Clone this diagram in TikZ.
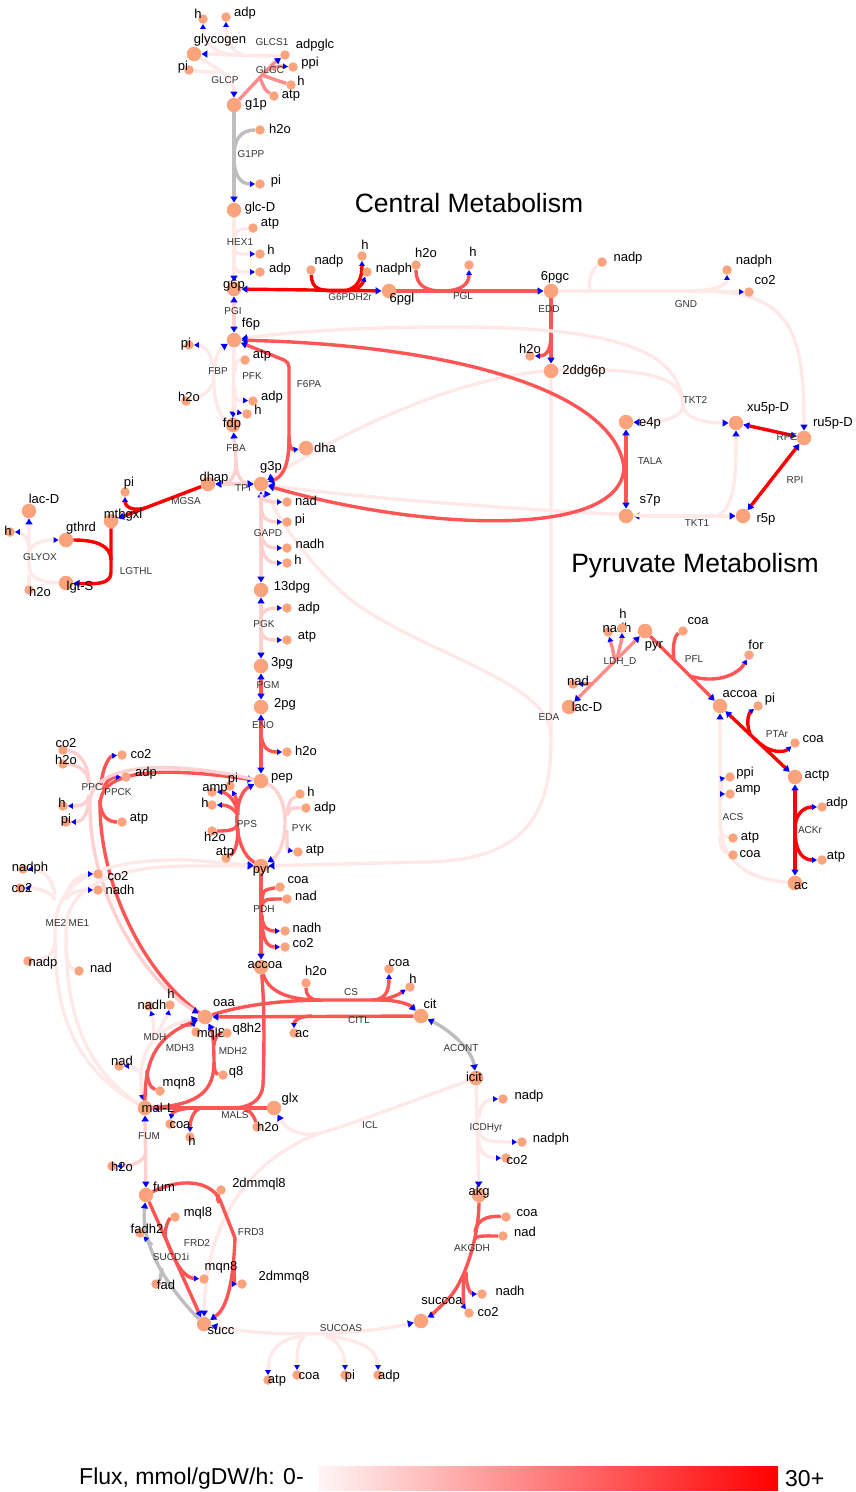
\documentclass[tikz,border=0pt]{standalone}
\usepackage{fontspec}
\setmainfont{Liberation Sans}
\usetikzlibrary{arrows.meta}
\pgfdeclarelayer{bg}
\pgfsetlayers{bg,main}

\definecolor{cz}{RGB}{255,232,232}
\definecolor{cl}{RGB}{255,208,208}
\definecolor{cm}{RGB}{255,140,140}
\definecolor{cr}{RGB}{255,85,85}
\definecolor{cx}{RGB}{255,0,0}
\definecolor{cg}{RGB}{190,190,190}
\definecolor{metc}{RGB}{250,163,124}

\tikzset{
  rxn/.style={line width=3.4pt, line join=round},
  fz/.style={rxn, draw=cz},
  fl/.style={rxn, draw=cl},
  fm/.style={rxn, draw=cm},
  fr/.style={rxn, draw=cr},
  fx/.style={rxn, draw=cx},
  fg/.style={rxn, draw=cg},
  tip/.style={-{Triangle[length=6pt,width=7pt,color=blue]}},
  tips/.style={-{Triangle[length=5pt,width=5.5pt,color=blue]}},
  both/.style={{Triangle[length=6pt,width=7pt,color=blue]}-{Triangle[length=6pt,width=7pt,color=blue]}},
  mb/.style={circle, fill=metc, minimum size=14.5pt, inner sep=0pt},
  ms/.style={circle, fill=metc, minimum size=9.5pt, inner sep=0pt},
  mlab/.style={font=\fontsize{13}{13}\selectfont, text=black, inner sep=0pt},
  rlab/.style={font=\fontsize{10}{10}\selectfont, text=black!80, inner sep=0pt},
  ttl/.style={font=\fontsize{26.5}{26.5}\selectfont, text=black, inner sep=0pt},
}
% metabolite: id, x, y, style, text, label x, label y
\newcommand\Met[7]{\node[#4] (#1) at (#2,#3) {}; \node[mlab] (#1t) at (#6,#7) {#5};}
% reaction label: id, x, y, text
\newcommand\Rx[4]{\node[rlab] (r#1) at (#2,#3) {#4};}

\begin{document}
\begin{tikzpicture}[x=1pt,y=-1pt]
\useasboundingbox (0,0) rectangle (855,1492);

% ---------------- metabolites ----------------
% glycogen and upper glycolysis
\Met{glycogen}{194}{54}{mb}{glycogen}{220}{40}
\Met{hA}{203}{19}{ms}{h}{198}{14}
\Met{adpA}{226}{17}{ms}{adp}{245}{13}
\Met{piA}{189}{70}{ms}{pi}{183}{67}
\Met{adpglc}{285}{55}{ms}{adpglc}{315}{45}
\Met{ppiA}{293}{67}{ms}{ppi}{310}{63}
\Met{hB}{291}{85}{ms}{h}{301}{81}
\Met{atpA}{274}{96}{ms}{atp}{291}{96}
\Met{g1p}{234}{105}{mb}{g1p}{256}{104}
\Met{h2oA}{260}{130}{ms}{h2o}{280}{129}
\Met{piB}{260}{184}{ms}{pi}{276}{181}
\Met{glcD}{234}{210}{mb}{glc-D}{260}{208}
\Met{atpB}{253}{228}{ms}{atp}{270}{224}
\Met{hC}{260}{254}{ms}{h}{271}{250}
\Met{adpB}{260}{272}{ms}{adp}{280}{269}
\Met{g6p}{234}{289}{mb}{g6p}{234}{285}
\Met{f6p}{234}{340}{mb}{f6p}{251}{324}
% pentose phosphate and ED
\Met{nadpA}{311}{270}{ms}{nadp}{329}{261}
\Met{hD}{362}{256}{ms}{h}{365}{245}
\Met{nadphA}{367}{272}{ms}{nadph}{394}{269}
\Met{pgl}{389}{291}{mb}{6pgl}{402}{299}
\Met{h2oB}{416}{265}{ms}{h2o}{426}{253}
\Met{hE}{469}{265}{ms}{h}{473}{252}
\Met{pgc}{551}{291}{mb}{6pgc}{555}{277}
\Met{nadpB}{602}{262}{ms}{nadp}{628}{258}
\Met{nadphB}{727}{270}{ms}{nadph}{754}{261}
\Met{co2A}{749}{292}{ms}{co2}{765}{280}
\Met{h2oC}{530}{356}{ms}{h2o}{530}{349}
\Met{ddg}{551}{371}{mb}{2ddg6p}{584}{371}
\Met{e4p}{626}{422}{mb}{e4p}{650}{423}
\Met{s7p}{626}{516}{mb}{s7p}{650}{500}
\Met{xu5p}{736}{423}{mb}{xu5p-D}{768}{408}
\Met{ru5p}{804}{438}{mb}{ru5p-D}{833}{423}
\Met{r5p}{743}{516}{mb}{r5p}{766}{519}
% lower glycolysis and methylglyoxal
\Met{piC}{189}{345}{ms}{pi}{186}{344}
\Met{atpC}{245}{360}{ms}{atp}{262}{356}
\Met{h2oD}{186}{401}{ms}{h2o}{189}{397}
\Met{adpC}{253}{401}{ms}{adp}{272}{397}
\Met{hF}{247}{414}{ms}{h}{258}{410}
\Met{fdp}{233}{425}{mb}{fdp}{232}{424}
\Met{dha}{306}{448}{mb}{dha}{325}{448}
\Met{g3p}{261}{484}{mb}{g3p}{271}{467}
\Met{dhap}{208}{484}{mb}{dhap}{214}{478}
\Met{piD}{125}{492}{ms}{pi}{129}{483}
\Met{mthgxl}{111}{521}{mb}{mthgxl}{123}{515}
\Met{lacD}{29}{511}{mb}{lac-D}{44}{499}
\Met{hG}{10}{532}{ms}{h}{8}{531}
\Met{gthrd}{66}{540}{mb}{gthrd}{81}{528}
\Met{lgtS}{66}{583}{mb}{lgt-S}{80}{587}
\Met{h2oE}{29}{590}{ms}{h2o}{40}{592}
\Met{nadA}{287}{502}{ms}{nad}{306}{501}
\Met{piE}{287}{522}{ms}{pi}{300}{520}
\Met{nadhA}{287}{548}{ms}{nadh}{310}{544}
\Met{hH}{287}{563}{ms}{h}{298}{560}
\Met{dpg}{261}{590}{mb}{13dpg}{292}{587}
\Met{adpD}{287}{608}{ms}{adp}{309}{608}
\Met{atpD}{287}{640}{ms}{atp}{307}{637}
\Met{pgthree}{261}{666}{mb}{3pg}{282}{663}
\Met{pgtwo}{261}{707}{mb}{2pg}{285}{704}
\Met{h2oF}{287}{752}{ms}{h2o}{306}{751}
\Met{pep}{261}{781}{mb}{pep}{282}{778}
% pyruvate metabolism
\Met{nadhL}{608}{632}{ms}{nadh}{617}{628}
\Met{hL}{622}{628}{ms}{h}{623}{614}
\Met{pyrB}{645}{631}{mb}{pyr}{654}{646}
\Met{coaP}{683}{631}{ms}{coa}{698}{621}
\Met{forP}{749}{655}{ms}{for}{756}{645}
\Met{nadL}{573}{684}{ms}{nad}{578}{681}
\Met{lacDB}{569}{707}{mb}{lac-D}{587}{707}
\Met{accoaB}{720}{706}{mb}{accoa}{740}{694}
\Met{piP}{758}{706}{ms}{pi}{770}{699}
\Met{coaT}{795}{743}{ms}{coa}{813}{739}
\Met{actp}{795}{777}{mb}{actp}{817}{776}
\Met{ppiS}{730}{777}{ms}{ppi}{745}{773}
\Met{ampS}{730}{794}{ms}{amp}{748}{790}
\Met{adpK}{822}{807}{ms}{adp}{837}{803}
\Met{atpS}{733}{838}{ms}{atp}{750}{838}
\Met{coaS}{733}{855}{ms}{coa}{750}{854}
\Met{atpK}{822}{860}{ms}{atp}{836}{857}
\Met{ac}{795}{883}{mb}{ac}{801}{886}
% anaplerotic
\Met{co2C}{63}{750}{ms}{co2}{66}{743}
\Met{h2oG}{63}{764}{ms}{h2o}{66}{760}
\Met{co2K}{122}{755}{ms}{co2}{141}{754}
\Met{adpE}{126}{777}{ms}{adp}{146}{773}
\Met{hI}{63}{806}{ms}{h}{62}{803}
\Met{piF}{66}{822}{ms}{pi}{66}{820}
\Met{atpE}{122}{822}{ms}{atp}{139}{819}
\Met{piG}{230}{786}{ms}{pi}{233}{779}
\Met{ampA}{212}{792}{ms}{amp}{215}{789}
\Met{hJ}{212}{805}{ms}{h}{205}{803}
\Met{h2oH}{212}{831}{ms}{h2o}{215}{837}
\Met{atpF}{226}{858}{ms}{atp}{225}{853}
\Met{hK}{300}{794}{ms}{h}{311}{792}
\Met{adpF}{306}{808}{ms}{adp}{325}{808}
\Met{atpG}{298}{852}{ms}{atp}{315}{851}
\Met{pyr}{261}{866}{mb}{pyr}{262}{871}
\Met{coaD}{280}{887}{ms}{coa}{298}{880}
\Met{nadD}{287}{899}{ms}{nad}{306}{896}
\Met{nadhD}{285}{931}{ms}{nadh}{307}{928}
\Met{co2D}{285}{947}{ms}{co2}{303}{943}
\Met{accoa}{261}{967}{mb}{accoa}{265}{965}
\Met{nadphM}{23}{869}{ms}{nadph}{30}{868}
\Met{co2M}{20}{888}{ms}{co2}{22}{888}
\Met{co2N}{98}{874}{ms}{co2}{118}{876}
\Met{nadhN}{98}{890}{ms}{nadh}{120}{890}
\Met{nadpM}{28}{961}{ms}{nadp}{43}{963}
\Met{nadN}{79}{971}{ms}{nad}{101}{968}
% TCA cycle and glyoxylate shunt
\Met{h2oI}{306}{983}{ms}{h2o}{316}{971}
\Met{coaC}{389}{969}{ms}{coa}{399}{963}
\Met{hM}{410}{987}{ms}{h}{413}{979}
\Met{cit}{421}{1016}{mb}{cit}{430}{1004}
\Met{acL}{294}{1033}{ms}{ac}{302}{1034}
\Met{oaa}{205}{1017}{mb}{oaa}{224}{1003}
\Met{nadhH}{149}{1006}{ms}{nadh}{152}{1005}
\Met{hN}{170}{1005}{ms}{h}{171}{994}
\Met{mqlA}{196}{1032}{ms}{mql8}{211}{1034}
\Met{qeh}{227}{1033}{ms}{q8h2}{247}{1029}
\Met{nadH}{119}{1066}{ms}{nad}{122}{1061}
\Met{qe}{223}{1075}{ms}{q8}{236}{1072}
\Met{mqnA}{160}{1091}{ms}{mqn8}{179}{1083}
\Met{malL}{145}{1108}{mb}{mal-L}{158}{1108}
\Met{glx}{274}{1108}{mb}{glx}{290}{1099}
\Met{coaM}{170}{1124}{ms}{coa}{180}{1125}
\Met{hO}{190}{1137}{ms}{h}{192}{1141}
\Met{h2oM}{257}{1127}{ms}{h2o}{268}{1127}
\Met{icit}{476}{1078}{mb}{icit}{474}{1077}
\Met{nadpI}{503}{1099}{ms}{nadp}{529}{1096}
\Met{nadphI}{522}{1142}{ms}{nadph}{551}{1139}
\Met{co2I}{506}{1158}{ms}{co2}{517}{1160}
\Met{h2oJ}{112}{1166}{ms}{h2o}{122}{1167}
\Met{fum}{146}{1195}{mb}{fum}{164}{1187}
\Met{dmql}{221}{1190}{ms}{2dmmql8}{259}{1184}
\Met{mqlB}{175}{1217}{ms}{mql8}{198}{1213}
\Met{fadh}{140}{1233}{ms}{fadh2}{147}{1229}
\Met{mqnB}{204}{1279}{ms}{mqn8}{221}{1267}
\Met{dmq}{242}{1284}{ms}{2dmmq8}{284}{1277}
\Met{fad}{156}{1284}{ms}{fad}{166}{1285}
\Met{succ}{204}{1324}{mb}{succ}{221}{1331}
\Met{akg}{479}{1195}{mb}{akg}{479}{1192}
\Met{coaG}{506}{1217}{ms}{coa}{527}{1213}
\Met{nadG}{503}{1236}{ms}{nad}{525}{1232}
\Met{nadhG}{482}{1294}{ms}{nadh}{510}{1291}
\Met{succoa}{421}{1321}{mb}{succoa}{442}{1301}
\Met{co2G}{469}{1313}{ms}{co2}{488}{1312}
\Met{atpU}{268}{1380}{ms}{atp}{277}{1381}
\Met{coaU}{297}{1375}{ms}{coa}{309}{1376}
\Met{piU}{345}{1375}{ms}{pi}{350}{1376}
\Met{adpU}{378}{1375}{ms}{adp}{389}{1376}

% ---------------- reaction labels ----------------
\Rx{GLCS1}{272}{42}{GLCS1}
\Rx{GLGC}{270}{70}{GLGC}
\Rx{GLCP}{225}{80}{GLCP}
\Rx{G1PP}{251}{154}{G1PP}
\Rx{HEX1}{240}{242}{HEX1}
\Rx{PGI}{233}{311}{PGI}
\Rx{G6PDH2r}{350}{297}{G6PDH2r}
\Rx{PGL}{463}{296}{PGL}
\Rx{EDD}{549}{309}{EDD}
\Rx{GND}{686}{304}{GND}
\Rx{TKT2}{695}{400}{TKT2}
\Rx{RPE}{787}{437}{RPE}
\Rx{TALA}{650}{461}{TALA}
\Rx{RPI}{795}{480}{RPI}
\Rx{TKT1}{697}{523}{TKT1}
\Rx{FBP}{218}{371}{FBP}
\Rx{PFK}{252}{376}{PFK}
\Rx{F6PA}{309}{384}{F6PA}
\Rx{FBA}{236}{448}{FBA}
\Rx{TPI}{243}{488}{TPI}
\Rx{MGSA}{186}{501}{MGSA}
\Rx{LGTHL}{136}{571}{LGTHL}
\Rx{GLYOX}{40}{557}{GLYOX}
\Rx{GAPD}{268}{533}{GAPD}
\Rx{PGK}{264}{624}{PGK}
\Rx{PGM}{268}{685}{PGM}
\Rx{ENO}{263}{725}{ENO}
\Rx{LDHD}{620}{662}{LDH\_D}
\Rx{PFL}{694}{659}{PFL}
\Rx{EDA}{549}{717}{EDA}
\Rx{PTAr}{777}{734}{PTAr}
\Rx{ACS}{733}{817}{ACS}
\Rx{ACKr}{810}{830}{ACKr}
\Rx{PPC}{92}{787}{PPC}
\Rx{PPCK}{118}{792}{PPCK}
\Rx{PPS}{247}{824}{PPS}
\Rx{PYK}{302}{828}{PYK}
\Rx{PDH}{264}{909}{PDH}
\Rx{ME2}{56}{923}{ME2}
\Rx{ME1}{79}{923}{ME1}
\Rx{CS}{351}{992}{CS}
\Rx{CITL}{359}{1020}{CITL}
\Rx{MDH}{155}{1037}{MDH}
\Rx{MDH3}{180}{1048}{MDH3}
\Rx{MDH2}{233}{1051}{MDH2}
\Rx{ACONT}{461}{1048}{ACONT}
\Rx{MALS}{235}{1115}{MALS}
\Rx{ICL}{370}{1125}{ICL}
\Rx{ICDHyr}{486}{1128}{ICDHyr}
\Rx{FUM}{149}{1136}{FUM}
\Rx{FRD2}{197}{1243}{FRD2}
\Rx{FRD3}{251}{1232}{FRD3}
\Rx{SUCD1i}{171}{1257}{SUCD1i}
\Rx{AKGDH}{472}{1248}{AKGDH}
\Rx{SUCOAS}{341}{1328}{SUCOAS}

% titles
\node[ttl] (title1) at (469,203) {Central Metabolism};
\node[ttl] (title2) at (695,566) {Pyruvate Metabolism};

% legend
\node[font=\fontsize{23}{23}\selectfont, anchor=west, inner sep=0pt] (legtxt) at (79,1479) {Flux, mmol/gDW/h: 0-};
\node[inner sep=0pt, minimum width=460pt, minimum height=24pt, left color={rgb,255:red,255;green,246;blue,246}, right color=red] (legbar) at (548,1478) {};
\node[font=\fontsize{23}{23}\selectfont, anchor=west, inner sep=0pt] (legmax) at (785,1479) {30+};

% ---------------- reactions ----------------
\begin{pgfonlayer}{bg}
% GLCS1
\draw[fz,tip] (adpglc) .. controls (255,57) and (225,54) .. (glycogen);
\draw[fz,tips] (232,55) .. controls (212,52) and (203,40) .. (hA);
\draw[fz,tips] (242,55) .. controls (229,50) and (226,36) .. (adpA);
% GLCP
\draw[fz,tip] (glycogen) .. controls (215,68) and (234,75) .. (g1p);
\draw[fz] (piA) .. controls (200,72) and (210,72) .. (218,72);
% GLGC
\draw[fm,tip] (g1p) .. controls (250,88) .. (265,72) .. controls (274,63) .. (adpglc);
\draw[fm,tips] (267,70) .. controls (278,66) .. (ppiA);
\draw[fm] (262,75) .. controls (276,80) .. (hB);
\draw[fm] (260,78) .. controls (265,90) .. (atpA);
% G1PP
\draw[fg,tip] (g1p) -- (glcD);
\draw[fg] (h2oA) .. controls (240,130) and (234,140) .. (234,157);
\draw[fg,tips] (234,157) .. controls (234,175) and (240,184) .. (piB);
% HEX1
\draw[fz,tip] (glcD) -- (g6p);
\draw[fz] (atpB) .. controls (236,230) .. (234,240);
\draw[fz,tips] (234,240) .. controls (234,254) .. (hC);
\draw[fz,tips] (234,250) .. controls (234,272) .. (adpB);
% PGI
\draw[fl,both] (g6p) -- (f6p);
% G6PDH2r
\draw[fx,both] (g6p) -- (pgl);
\draw[fx] (nadpA) .. controls (312,290) and (320,291) .. (340,291);
\draw[fx,tips] (340,291) .. controls (360,291) and (362,275) .. (hD);
\draw[fx,tips] (345,291) .. controls (358,291) and (362,285) .. (nadphA);
% PGL
\draw[fr,tip] (pgl) -- (pgc);
\draw[fr] (h2oB) .. controls (416,285) and (425,291) .. (442,291);
\draw[fr,tips] (442,291) .. controls (460,291) and (469,285) .. (hE);
% GND
\draw[fz,tip] (pgc) -- (700,291) .. controls (790,291) and (804,330) .. (ru5p);
\draw[fz] (nadpB) .. controls (590,270) and (588,285) .. (590,291);
\draw[fz,tips] (690,291) .. controls (715,291) and (727,285) .. (nadphB);
\draw[fz,tips] (700,291) -- (co2A);
% EDD
\draw[fr,tip] (pgc) -- (ddg);
\draw[fr,tips] (551,335) .. controls (551,352) and (545,356) .. (h2oC);
% EDA
\draw[fz,tip] (ddg) -- (551,740) .. controls (551,820) and (520,862) .. (420,862) -- (pyr);
\draw[fz,tip] (551,735) .. controls (551,680) and (410,650) .. (345,595) .. controls (300,555) and (278,515) .. (g3p);
% TKT2
\coordinate (tkt2) at (683,405);
\draw[fz,tip] (tkt2) .. controls (683,418) and (660,423) .. (e4p);
\draw[fz,tip] (tkt2) .. controls (683,418) and (705,423) .. (xu5p);
\draw[fz,tip] (tkt2) .. controls (680,345) and (600,327) .. (450,327) .. controls (350,327) and (280,333) .. (f6p);
\draw[fz,tip] (tkt2) .. controls (683,375) and (640,368) .. (560,370) .. controls (450,375) and (330,440) .. (g3p);
% TKT1
\draw[fz,both] (r5p) -- (s7p);
\draw[fz,tip] (715,516) .. controls (736,512) and (736,470) .. (xu5p);
\draw[fz,tip] (660,516) -- (610,514) .. controls (500,508) and (350,497) .. (g3p);
% TALA
\draw[fr,both] (e4p) -- (s7p);
\draw[fr,tip] (624,468) .. controls (615,390) and (450,345) .. (f6p);
\draw[fr,tip] (624,468) .. controls (620,540) and (420,530) .. (g3p);
% RPE, RPI
\draw[fx,both] (ru5p) -- (xu5p);
\draw[fx,both] (ru5p) -- (r5p);
% F6PA
\draw[fr,tip,rounded corners=5pt] (289,440) -- (289,362) -- (f6p);
\draw[fr,tips] (289,436) .. controls (289,447) and (292,450) .. (dha);
\draw[fr,tip] (289,440) .. controls (289,470) and (280,478) .. (g3p);
% PFK
\draw[fz,tip] (f6p) -- (fdp);
\draw[fz] (atpC) .. controls (236,361) .. (235,372);
\draw[fz,tips] (235,385) .. controls (235,400) .. (adpC);
\draw[fz,tips] (235,395) .. controls (235,412) .. (hF);
% FBP
\draw[fz,tip] (fdp) .. controls (210,410) and (210,355) .. (f6p);
\draw[fz] (h2oD) .. controls (200,398) and (212,390) .. (212,383);
\draw[fz,tips] (212,365) .. controls (212,350) and (200,345) .. (piC);
% FBA, TPI
\draw[fl,tip] (236,462) -- (fdp);
\draw[fl,tip] (236,462) .. controls (236,482) and (225,484) .. (dhap);
\draw[fl,tip] (236,462) .. controls (236,482) and (248,484) .. (g3p);
\draw[fl,both] (dhap) -- (g3p);
% MGSA
\draw[fx,tip] (dhap) -- (mthgxl);
\draw[fx,tips] (145,508) .. controls (130,512) and (125,505) .. (piD);
% LGTHL
\draw[fx,tip] (mthgxl) -- (111,572) .. controls (111,585) and (95,584) .. (lgtS);
\draw[fx] (gthrd) .. controls (95,540) and (111,545) .. (111,560);
% GLYOX
\draw[fz,tip] (lgtS) .. controls (40,582) and (29,578) .. (29,565) -- (lacD);
\draw[fz] (h2oE) -- (29,575);
\draw[fz,tips] (29,555) .. controls (29,542) and (45,540) .. (gthrd);
\draw[fz,tips] (29,548) .. controls (29,538) and (20,532) .. (hG);
% GAPD
\draw[fl,both] (g3p) -- (dpg);
\draw[fl,tips] (261,494) .. controls (261,502) and (270,502) .. (nadA);
\draw[fl,tips] (261,505) .. controls (261,520) and (270,522) .. (piE);
\draw[fl,tips] (261,530) .. controls (261,546) and (270,548) .. (nadhA);
\draw[fl,tips] (261,535) .. controls (261,560) and (270,563) .. (hH);
% PGK
\draw[fl,both] (dpg) -- (pgthree);
\draw[fl,tips] (261,620) .. controls (261,609) and (270,608) .. (adpD);
\draw[fl,tips] (261,628) .. controls (261,640) and (270,640) .. (atpD);
% PGM, ENO
\draw[fr,both] (pgthree) -- (pgtwo);
\draw[fr,both] (pgtwo) -- (pep);
\draw[fr,tips] (261,730) .. controls (261,750) and (270,752) .. (h2oF);
% PYK
\draw[fl,tip] (pep) .. controls (292,795) and (288,850) .. (pyr);
\draw[fl] (hK) .. controls (290,800) .. (287,812);
\draw[fl] (adpF) .. controls (290,808) .. (287,816);
\draw[fl,tips] (287,830) .. controls (287,850) .. (atpG);
% PPS
\draw[fr,tip] (pyr) .. controls (232,850) and (232,795) .. (pep);
\draw[fr,tips] (238,815) .. controls (236,798) and (225,792) .. (ampA);
\draw[fr,tips] (238,815) .. controls (232,806) and (225,805) .. (hJ);
\draw[fr,tips] (238,812) .. controls (238,800) and (234,794) .. (piG);
\draw[fr] (h2oH) .. controls (230,831) and (237,830) .. (238,822);
\draw[fr] (atpF) .. controls (236,852) and (238,840) .. (238,828);
% PPCK
\draw[fr,tip] (oaa) .. controls (140,970) and (100,880) .. (100,805) .. controls (100,772) and (150,765) .. (pep);
\draw[fr,tips] (101,785) .. controls (103,765) and (110,756) .. (co2K);
\draw[fr,tips] (103,790) .. controls (106,780) and (112,777) .. (adpE);
\draw[fr] (100,800) .. controls (100,818) and (110,822) .. (atpE);
% PPC
\draw[fl,tip] (pep) .. controls (180,762) and (95,760) .. (90,800) .. controls (88,900) and (150,985) .. (oaa);
\draw[fl] (co2C) .. controls (80,752) and (89,765) .. (89,785);
\draw[fl] (h2oG) .. controls (80,765) and (89,772) .. (89,785);
\draw[fl,tips] (89,795) .. controls (88,805) and (80,806) .. (hI);
\draw[fl,tips] (89,798) .. controls (88,818) and (80,822) .. (piF);
% ME2, ME1
\draw[fz,tip] (malL) .. controls (60,1060) and (55,990) .. (55,930) .. controls (55,880) and (100,858) .. (190,860) -- (pyr);
\draw[fz,tip] (malL) .. controls (72,1060) and (66,990) .. (66,930) .. controls (66,888) and (110,866) .. (190,866) -- (pyr);
\draw[fz,tips] (55,895) .. controls (52,875) and (40,869) .. (nadphM);
\draw[fz,tips] (55,900) .. controls (50,890) and (35,888) .. (co2M);
\draw[fz] (nadpM) .. controls (50,960) and (55,950) .. (55,940);
\draw[fz,tips] (66,895) .. controls (70,878) and (85,874) .. (co2N);
\draw[fz,tips] (66,900) .. controls (70,890) and (85,890) .. (nadhN);
\draw[fz] (nadN) .. controls (68,968) and (66,955) .. (66,945);
% PDH
\draw[fr,tip] (pyr) -- (accoa);
\draw[fr] (coaD) .. controls (263,890) .. (262,902);
\draw[fr] (nadD) .. controls (265,899) .. (262,905);
\draw[fr,tips] (262,915) .. controls (262,930) and (270,931) .. (nadhD);
\draw[fr,tips] (262,918) .. controls (262,945) and (270,947) .. (co2D);
% CS
\draw[fr,tip] (oaa) .. controls (250,1003) and (290,1000) .. (330,1000) -- (378,1000) .. controls (400,1000) and (410,1005) .. (cit);
\draw[fr] (accoa) .. controls (268,990) and (285,1000) .. (320,1000);
\draw[fr] (h2oI) .. controls (306,995) and (310,1000) .. (318,1000);
\draw[fr,tips] (372,1000) .. controls (386,1000) and (389,990) .. (coaC);
\draw[fr,tips] (378,1000) .. controls (395,998) and (402,992) .. (hM);
% CITL
\draw[fr,tip] (cit) -- (oaa);
\draw[fr,tips] (312,1016) .. controls (297,1016) and (294,1022) .. (acL);
% ACONT
\draw[fg,both] (cit) .. controls (450,1030) and (472,1050) .. (icit);
% ICDHyr
\draw[fz,tip] (icit) -- (akg);
\draw[fz,tips] (479,1118) .. controls (479,1102) and (490,1099) .. (nadpI);
\draw[fz,tips] (479,1130) .. controls (479,1142) and (495,1142) .. (nadphI);
\draw[fz,tips] (479,1140) .. controls (479,1156) and (490,1158) .. (co2I);
% ICL
\draw[fz] (icit) .. controls (420,1098) and (350,1125) .. (320,1133);
\draw[fz,tip] (320,1133) .. controls (300,1138) and (285,1128) .. (glx);
\draw[fz,tip] (320,1133) .. controls (235,1165) and (205,1240) .. (succ);
% MALS
\draw[fr,tip] (glx) -- (malL);
\draw[fr] (accoa) .. controls (265,1010) and (264,1060) .. (263,1085) .. controls (262,1100) and (250,1108) .. (232,1108);
\draw[fr,tips] (196,1108) .. controls (180,1108) and (172,1112) .. (coaM);
\draw[fr,tips] (200,1108) .. controls (192,1112) and (190,1122) .. (hO);
\draw[fr] (h2oM) .. controls (254,1115) and (248,1108) .. (240,1108);
% MDH
\draw[fz,both] (malL) .. controls (136,1060) and (148,1028) .. (oaa);
\draw[fz,tips] (153,1042) .. controls (155,1025) and (152,1015) .. (nadhH);
\draw[fz,tips] (155,1040) .. controls (162,1022) and (168,1015) .. (hN);
\draw[fz,tips] (142,1075) .. controls (138,1068) and (128,1066) .. (nadH);
% MDH3
\draw[fr,tip] (malL) .. controls (145,1055) and (160,1035) .. (oaa);
\draw[fr] (mqnA) .. controls (150,1088) and (147,1080) .. (147,1070);
\draw[fr,tips] (181,1026) .. controls (190,1024) and (194,1026) .. (mqlA);
% MDH2
\draw[fr,tip] (malL) .. controls (200,1105) and (214,1090) .. (214,1062) .. controls (214,1040) and (212,1030) .. (oaa);
\draw[fr] (qe) .. controls (215,1074) and (214,1068) .. (214,1062);
\draw[fr] (214,1045) .. controls (215,1035) and (220,1033) .. (qeh);
% FUM
\draw[fl,both] (fum) -- (malL);
\draw[fl,tips] (146,1150) .. controls (146,1163) and (130,1166) .. (h2oJ);
% FRD2
\draw[fr,tip] (fum) -- (succ);
\draw[fr] (165,1236) .. controls (165,1225) and (170,1218) .. (mqlB);
\draw[fr,tips] (165,1236) .. controls (175,1265) and (185,1278) .. (mqnB);
% FRD3
\draw[fr,tip] (fum) .. controls (180,1178) and (210,1180) .. (220,1200) -- (235,1238) .. controls (233,1290) and (225,1310) .. (succ);
\draw[fr] (dmql) .. controls (217,1197) .. (219,1203);
\draw[fr,tips] (234,1265) .. controls (234,1280) and (236,1284) .. (dmq);
% SUCD1i
\draw[fg,tip] (succ) .. controls (175,1295) and (140,1250) .. (fum);
\draw[fg] (fad) .. controls (160,1280) .. (162,1268);
\draw[fg,tips] (152,1245) .. controls (147,1240) .. (fadh);
% AKGDH
\draw[fr,tip] (akg) .. controls (479,1235) and (465,1285) .. (445,1302) .. controls (437,1310) and (430,1316) .. (succoa);
\draw[fr] (coaG) .. controls (485,1215) and (476,1222) .. (475,1232);
\draw[fr] (nadG) .. controls (485,1236) and (476,1235) .. (474,1240);
\draw[fr,tips] (466,1272) .. controls (466,1290) and (472,1294) .. (nadhG);
\draw[fr,tips] (464,1276) .. controls (462,1300) and (465,1308) .. (co2G);
% SUCOAS
\draw[fz,both] (succoa) .. controls (360,1335) and (270,1338) .. (succ);
\draw[fz,tips] (305,1336) .. controls (275,1338) and (268,1355) .. (atpU);
\draw[fz,tips] (305,1336) .. controls (297,1340) and (297,1355) .. (coaU);
\draw[fz,tips] (325,1336) .. controls (340,1340) and (345,1355) .. (piU);
\draw[fz,tips] (325,1336) .. controls (370,1340) and (378,1355) .. (adpU);
% LDH_D
\draw[fm,both] (lacDB) -- (pyrB);
\draw[fm,tips] (593,684) .. controls (585,684) .. (nadL);
\draw[fm,tips] (615,661) .. controls (612,645) and (610,640) .. (nadhL);
\draw[fm,tips] (617,659) .. controls (620,645) and (622,640) .. (hL);
% PFL
\draw[fr,tip] (pyrB) -- (accoaB);
\draw[fr] (coaP) .. controls (675,635) and (672,645) .. (674,660);
\draw[fr,tips] (690,676) .. controls (720,685) and (740,672) .. (forP);
% PTAr
\draw[fx,both] (accoaB) -- (actp);
\draw[fx,tips] (750,734) .. controls (745,720) and (750,712) .. (piP);
\draw[fx,tips] (755,739) .. controls (770,755) and (785,752) .. (coaT);
% ACKr
\draw[fx,both] (actp) -- (ac);
\draw[fx,tips] (795,830) .. controls (795,812) and (805,807) .. (adpK);
\draw[fx,tips] (795,830) .. controls (795,855) and (805,860) .. (atpK);
% ACS
\draw[fz,tip] (ac) .. controls (760,880) and (720,870) .. (720,820) -- (accoaB);
\draw[fz,tips] (721,795) .. controls (721,780) and (725,778) .. (ppiS);
\draw[fz,tips] (721,800) .. controls (722,794) and (725,794) .. (ampS);
\draw[fz] (atpS) .. controls (722,836) and (720,832) .. (720,825);
\draw[fz] (coaS) .. controls (722,852) and (720,845) .. (720,835);
\end{pgfonlayer}
\end{tikzpicture}
\end{document}
